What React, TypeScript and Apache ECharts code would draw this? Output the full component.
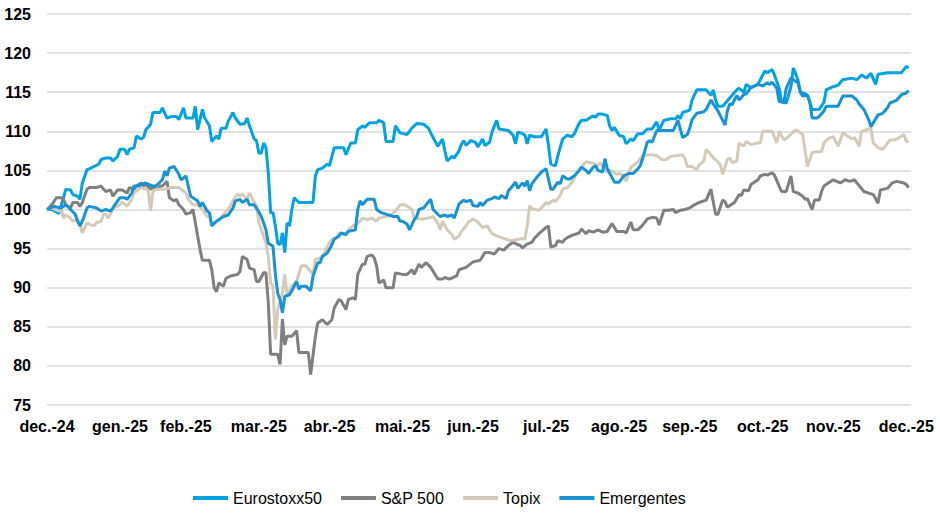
import React, { useEffect, useRef } from "react";
import * as echarts from "echarts";

// x = days since 31 Dec 2024
const monthTickDays = [0, 31, 59, 90, 120, 151, 181, 212, 243, 273, 304, 334, 365];
const monthLabels = ["dec.-24", "gen.-25", "feb.-25", "mar.-25", "abr.-25", "mai.-25", "jun.-25", "jul.-25", "ago.-25", "sep.-25", "oct.-25", "nov.-25", "dec.-25"];
const seriesNames = ["Eurostoxx50", "S&P 500", "Topix", "Emergentes"];

const eurostoxx: [number, number][] = [
  [0,100],[2,100],[5,99.5],[7,101.5],[8,102.6],[10,102.5],[11,101.9],[13,101.7],[14,101.3],[15,103.4],[17,105.1],[18,105.2],[20,105.5],[22,105.8],[23,106.4],[25,106.6],[27,106.6],[28,106.2],[30,106.8],[31,107.7],[33,107.7],[34,107.0],[35,107.7],[37,107.9],[38,109.4],[40,109.0],[41,109.2],[42,110.2],[44,110.9],[45,112.4],[48,112.4],[49,113.0],[51,111.7],[53,111.9],[55,111.9],[56,111.5],[58,113.0],[59,111.7],[62,111.7],[63,113.2],[64,110.2],[66,112.8],[67,111.7],[69,110.7],[70,108.7],[72,109.4],[73,109.0],[74,110.4],[76,110.4],[77,111.3],[79,112.4],[80,111.7],[82,110.9],[84,111.0],[85,111.7],[86,110.7],[88,109.0],[89,108.8],[90,107.2],[91,107.2],[92,108.5],[93,107.9],[94,104.7],[95,99.6],[96,99.6],[97,97.9],[98,95.7],[99,95.5],[100,97.0],[101,94.5],[102,98.3],[103,97.9],[104,100.0],[105,101.5],[107,100.9],[109,100.9],[113,100.9],[114,104.3],[115,105.1],[117,105.3],[119,105.8],[120,105.6],[122,107.9],[126,107.9],[127,107.0],[129,108.5],[131,108.5],[132,110.2],[134,110.7],[135,110.5],[137,111.1],[140,111.1],[141,111.4],[143,111.1],[144,108.7],[147,108.7],[148,110.7],[150,109.8],[153,109.6],[155,110.4],[157,111.0],[160,110.9],[162,110.4],[164,109.2],[166,108.1],[168,109.0],[169,107.5],[170,106.2],[172,106.8],[173,106.6],[175,107.5],[176,108.3],[177,108.8],[178,108.2],[180,108.8],[182,108.6],[183,108.0],[185,109.0],[186,108.2],[188,108.6],[189,109.9],[191,111.4],[192,110.3],[196,110.1],[198,109.5],[199,108.4],[200,109.9],[202,109.7],[203,109.5],[204,108.4],[205,109.5],[207,109.3],[210,109.3],[212,110.3],[213,108.2],[214,105.8],[216,105.6],[217,106.9],[219,109.0],[221,109.5],[223,109.3],[224,109.7],[226,111.0],[227,111.4],[229,111.4],[232,112.0],[233,111.8],[234,112.2],[236,112.2],[238,112.0],[239,110.7],[240,110.1],[241,110.5],[243,109.5],[245,109.3],[246,108.4],[248,109.0],[249,108.8],[251,109.7],[253,109.7],[255,110.3],[257,110.3],[259,111.2],[260,110.1],[262,111.4],[265,111.6],[267,111.6],[268,112.0],[269,111.6],[270,112.4],[273,112.7],[274,114.0],[276,115.3],[280,115.3],[282,114.6],[283,115.3],[284,114.0],[285,113.2],[287,113.2],[289,113.9],[291,114.6],[293,115.3],[294,115.5],[296,115.0],[297,116.0],[299,115.6],[302,116.0],[303,116.6],[304,117.2],[305,117.7],[306,117.5],[308,117.9],[309,117.2],[311,115.5],[312,113.8],[314,113.6],[316,115.7],[317,118.1],[319,116.6],[320,115.0],[322,114.8],[323,114.6],[325,112.8],[328,112.8],[330,113.7],[331,115.3],[334,115.7],[336,115.9],[338,116.6],[342,116.8],[344,116.6],[346,117.2],[348,116.8],[350,117.4],[352,116.0],[353,117.3],[357,117.5],[363,117.5],[365,118.3],[366,118.1]
];

const sp500: [number, number][] = [
  [0,100],[2,100.6],[4,101.5],[6,101.5],[7,101.3],[8,100.6],[10,100.2],[11,100.9],[13,100.9],[14,100.4],[15,100.9],[17,102.6],[18,102.8],[21,102.8],[23,103.0],[24,102.6],[25,102.3],[27,102.5],[28,101.7],[30,102.5],[32,102.5],[34,102.1],[35,102.8],[37,102.6],[38,103.0],[40,103.4],[41,103.0],[42,103.2],[44,102.6],[45,102.8],[47,102.6],[48,103.0],[49,103.0],[51,103.6],[52,101.5],[54,101.1],[55,101.3],[56,100.6],[58,100.0],[59,99.4],[61,99.6],[62,100.0],[63,98.3],[64,96.6],[65,94.9],[66,93.5],[69,93.5],[70,92.3],[71,90.0],[72,89.5],[73,90.6],[75,90.2],[76,91.2],[78,91.5],[81,91.7],[82,92.1],[83,94.0],[85,93.6],[86,92.5],[88,92.3],[89,90.8],[90,90.8],[92,91.9],[93,91.9],[94,88.1],[95,81.5],[96,81.5],[98,81.5],[99,80.2],[100,86.0],[101,82.7],[102,83.8],[104,83.8],[106,84.5],[107,81.7],[110,81.7],[111,81.7],[112,78.9],[114,83.8],[115,85.5],[117,85.9],[119,85.3],[121,85.9],[122,87.4],[124,88.5],[125,88.3],[127,87.2],[128,88.5],[130,88.7],[131,88.5],[132,91.7],[134,93.0],[135,93.0],[136,94.0],[138,94.2],[139,93.8],[140,92.8],[141,90.6],[143,91.0],[144,90.0],[147,90.0],[148,91.9],[151,91.7],[153,91.7],[155,92.3],[156,91.7],[158,93.0],[159,92.6],[161,93.2],[163,92.6],[164,92.1],[166,91.1],[168,91.1],[169,91.3],[171,91.1],[174,91.5],[175,92.3],[178,92.6],[181,93.3],[184,93.5],[186,94.5],[188,94.5],[190,94.3],[192,95.0],[194,94.8],[196,95.4],[198,95.8],[200,95.5],[201,95.4],[202,95.1],[204,95.6],[206,95.8],[207,96.3],[209,96.9],[212,97.7],[213,97.9],[214,95.2],[216,95.4],[217,96.0],[219,95.8],[220,96.2],[221,96.4],[223,96.7],[226,97.0],[227,97.5],[229,96.9],[230,97.3],[232,97.1],[234,97.4],[236,97.1],[238,97.2],[240,98.2],[242,97.2],[245,97.2],[246,97.0],[248,98.4],[249,97.4],[251,97.4],[253,98.0],[255,98.8],[257,99.0],[259,98.9],[260,98.0],[262,99.9],[264,99.9],[266,100.0],[267,99.6],[269,99.9],[271,100.0],[273,100.2],[275,100.6],[277,100.9],[280,101.2],[281,101.9],[282,102.6],[284,99.4],[285,99.4],[287,101.2],[288,101.0],[289,100.3],[291,100.7],[292,100.9],[294,101.9],[295,101.8],[296,102.5],[298,102.4],[299,103.2],[302,103.8],[303,104.3],[305,104.5],[306,104.4],[308,104.7],[309,104.4],[311,103.0],[312,102.3],[314,102.3],[316,104.3],[317,102.3],[319,102.1],[321,101.7],[322,101.3],[323,101.4],[325,100.0],[326,101.2],[328,101.2],[329,102.3],[330,103.0],[333,103.6],[334,103.8],[337,103.4],[339,103.8],[341,103.6],[343,103.8],[344,103.4],[347,102.3],[349,102.1],[351,101.9],[353,100.8],[354,102.5],[357,102.7],[359,103.4],[361,103.6],[364,103.4],[365,103.2],[366,102.8]
];

const topix: [number, number][] = [
  [0,100],[2,100.2],[5,99.8],[6,100.2],[7,98.9],[8,99.3],[10,98.9],[11,98.5],[13,98.7],[14,98.1],[15,97.0],[17,98.3],[18,98.1],[20,97.9],[21,98.3],[23,98.5],[24,99.4],[25,99.4],[26,98.9],[28,100.0],[29,100.4],[30,100.4],[32,100.9],[33,100.7],[34,100.4],[36,101.3],[37,102.1],[39,102.6],[40,102.8],[42,102.6],[43,102.4],[44,99.8],[45,102.4],[47,102.6],[50,102.6],[53,102.8],[56,102.8],[57,102.6],[59,102.1],[60,101.3],[62,100.6],[64,100.6],[66,100.0],[68,99.1],[69,99.1],[70,98.1],[73,98.7],[75,99.4],[77,100.0],[79,101.1],[81,102.0],[82,101.7],[83,102.0],[85,101.3],[86,102.1],[88,100.9],[89,100.5],[90,98.3],[91,97.5],[92,96.6],[93,95.7],[94,94.0],[95,90.6],[96,90.2],[97,83.4],[98,87.2],[100,89.3],[101,91.7],[102,89.0],[103,89.6],[104,90.2],[106,90.8],[108,92.8],[110,92.8],[113,91.7],[114,93.6],[116,93.8],[118,94.5],[119,95.3],[121,96.2],[123,96.4],[124,97.0],[127,96.8],[128,97.4],[130,97.9],[132,98.3],[133,98.5],[134,98.9],[136,98.7],[138,98.9],[140,98.5],[141,98.9],[144,99.1],[146,99.3],[148,99.8],[150,100.6],[152,100.6],[153,100.4],[155,100.0],[156,98.9],[158,98.8],[160,98.8],[162,98.9],[164,99.1],[166,98.3],[167,97.4],[168,98.5],[170,97.4],[172,96.8],[173,96.2],[175,96.6],[176,97.2],[178,97.9],[179,98.4],[181,98.8],[183,98.4],[185,97.7],[187,97.9],[189,96.9],[192,96.5],[194,96.3],[197,96.0],[200,96.2],[202,96.3],[203,96.2],[204,98.0],[205,100.5],[206,100.1],[209,99.9],[210,100.2],[212,100.9],[213,100.7],[215,101.2],[216,101.0],[218,101.8],[219,102.6],[221,102.8],[222,103.1],[223,103.5],[225,104.6],[226,105.0],[228,105.8],[229,106.1],[232,105.9],[234,105.6],[235,106.0],[236,105.4],[238,104.8],[239,105.0],[240,104.9],[242,104.5],[243,104.6],[245,104.4],[246,103.6],[248,105.4],[249,105.6],[251,106.1],[253,106.9],[255,107.0],[257,107.0],[259,106.9],[261,106.4],[263,106.4],[265,106.8],[268,106.9],[270,107.0],[271,106.5],[272,105.5],[274,105.5],[276,105.1],[277,105.7],[279,106.2],[280,107.7],[282,107.0],[283,106.6],[285,106.1],[286,105.7],[287,104.5],[289,106.4],[290,106.6],[291,106.0],[293,106.2],[294,108.5],[296,108.1],[297,108.7],[299,108.3],[302,108.5],[303,108.5],[304,110.0],[308,110.0],[310,108.5],[311,110.0],[313,108.9],[314,109.1],[316,109.6],[318,110.2],[320,109.8],[321,109.6],[323,105.5],[325,107.3],[327,107.4],[329,107.4],[330,108.5],[332,109.1],[334,109.3],[336,108.1],[337,108.9],[338,109.8],[340,109.4],[342,109.0],[343,109.2],[345,108.1],[346,110.0],[348,110.2],[350,110.4],[351,108.5],[353,107.9],[355,107.7],[357,108.5],[358,108.9],[360,108.9],[362,109.2],[364,109.6],[365,108.7],[366,108.7]
];

const emergentes: [number, number][] = [
  [0,100],[3,100.4],[6,100.2],[8,100.6],[10,100.0],[12,99.4],[13,98.5],[14,97.9],[15,98.5],[17,100.2],[18,100.4],[21,100.2],[23,99.8],[25,100.0],[27,99.8],[28,100.2],[30,101.1],[31,101.5],[33,101.5],[34,101.3],[36,102.1],[37,103.0],[39,103.0],[40,103.2],[42,103.4],[43,103.2],[45,103.0],[46,103.0],[47,103.2],[49,103.8],[50,104.9],[51,104.3],[52,105.3],[54,105.5],[56,104.5],[57,103.8],[59,104.3],[60,103.0],[61,101.7],[62,101.5],[64,101.1],[65,100.4],[66,100.9],[68,99.8],[69,99.6],[70,97.9],[72,98.5],[73,98.7],[75,99.1],[77,99.3],[79,100.2],[80,101.1],[82,101.3],[83,100.9],[85,101.3],[86,100.6],[88,100.6],[90,99.7],[91,99.1],[92,98.3],[93,97.4],[94,95.7],[96,95.3],[97,91.7],[98,89.3],[99,88.5],[100,86.8],[101,88.9],[103,89.1],[104,89.6],[106,90.8],[107,89.8],[108,90.2],[110,90.2],[112,89.6],[113,91.5],[115,93.2],[116,93.2],[117,94.0],[119,94.4],[121,95.5],[122,96.2],[124,96.6],[125,97.0],[127,96.8],[128,97.2],[131,97.4],[132,100.0],[133,101.1],[134,100.6],[136,101.3],[139,101.3],[140,100.0],[142,99.6],[144,99.4],[147,99.1],[149,99.1],[150,98.5],[151,98.5],[153,98.1],[154,97.4],[156,98.7],[157,99.1],[158,100.0],[160,100.2],[161,100.6],[163,101.3],[164,100.0],[166,99.4],[167,99.1],[169,99.3],[170,99.1],[172,99.3],[173,98.9],[175,100.7],[177,101.2],[178,101.0],[180,101.2],[181,100.5],[183,100.4],[184,100.9],[185,100.5],[187,101.2],[189,101.4],[190,101.6],[192,101.4],[193,101.8],[195,101.4],[196,102.4],[198,103.1],[199,103.5],[200,102.7],[202,103.4],[203,103.0],[204,103.7],[205,102.4],[206,103.3],[208,104.1],[210,104.8],[212,105.2],[213,103.9],[214,102.6],[215,102.6],[217,103.5],[218,103.3],[219,104.3],[221,103.9],[222,103.9],[224,104.3],[226,105.0],[227,105.4],[229,105.0],[230,104.6],[232,105.4],[233,105.6],[234,105.0],[236,104.8],[237,106.5],[238,105.2],[240,104.1],[241,103.5],[243,103.5],[245,104.3],[247,104.6],[249,104.6],[251,105.2],[252,105.6],[253,106.5],[255,108.6],[256,108.8],[257,108.6],[259,110.1],[262,110.1],[264,110.1],[266,110.1],[268,111.4],[270,109.2],[272,109.6],[273,110.4],[274,111.5],[276,112.3],[279,112.5],[280,112.8],[282,114.0],[283,113.5],[285,112.6],[286,112.0],[288,110.8],[289,112.6],[290,113.5],[291,113.4],[293,114.6],[294,114.0],[296,114.7],[297,114.8],[299,115.6],[302,116.0],[304,115.8],[306,116.2],[307,116.0],[308,116.3],[310,115.5],[311,113.8],[313,113.7],[314,115.5],[316,116.8],[317,116.6],[319,116.2],[320,115.0],[321,114.5],[323,114.6],[324,113.8],[325,111.7],[327,111.7],[328,111.9],[330,112.6],[331,113.2],[336,113.2],[338,114.5],[342,114.5],[344,114.0],[345,113.5],[347,112.8],[349,111.5],[350,110.6],[353,112.1],[355,112.3],[357,113.0],[358,113.6],[361,114.0],[363,114.7],[365,114.9],[366,115.2]
];

const colors = ["#00A2E3", "#7F7F7F", "#D5C9B8", "#1792D4"];
const FONT = "'Liberation Sans', Arial, sans-serif";

export default function App() {
  const ref = useRef<HTMLDivElement>(null);
  useEffect(() => {
    if (!ref.current) return;
    const chart = echarts.init(ref.current, undefined, { renderer: "svg" });
    const datasets = [eurostoxx, sp500, topix, emergentes];
    chart.setOption({
      animation: false,
      backgroundColor: "#ffffff",
      color: colors,
      grid: { left: 47, right: 29, top: 14, bottom: 114, containLabel: false },
      legend: {
        left: 188,
        top: 485,
        icon: "rect",
        itemWidth: 35,
        itemHeight: 4,
        itemGap: 19,
        textStyle: { fontFamily: FONT, fontSize: 16, color: "#000" },
        data: seriesNames,
      },
      xAxis: {
        type: "value",
        min: 0,
        max: 367,
        axisLine: { show: false },
        axisTick: { show: false },
        splitLine: { show: false },
        axisLabel: {
          customValues: monthTickDays,
          formatter: (v: number) => {
            const i = monthTickDays.indexOf(Math.round(v));
            return i >= 0 ? monthLabels[i] : "";
          },
          margin: 13,
          fontFamily: FONT,
          fontSize: 16,
          fontWeight: "bold",
          color: "#000",
          hideOverlap: false,
          showMinLabel: true,
          showMaxLabel: true,
        },
      },
      yAxis: {
        type: "value",
        min: 75,
        max: 125,
        interval: 5,
        axisLine: { show: false },
        axisTick: { show: false },
        splitLine: { lineStyle: { color: "#D9D9D9", width: 1.5 } },
        axisLabel: {
          margin: 16,
          fontFamily: FONT,
          fontSize: 16,
          fontWeight: "bold",
          color: "#000",
        },
      },
      series: seriesNames.map((name, i) => ({
        name,
        type: "line",
        data: datasets[i],
        showSymbol: false,
        symbol: "none",
        lineStyle: { width: 3, color: colors[i] },
        itemStyle: { color: colors[i] },
      })),
    });
    return () => chart.dispose();
  }, []);
  return (
    <div
      ref={ref}
      style={{ position: "fixed", left: 0, top: 0, width: 940, height: 519, background: "#fff" }}
    />
  );
}
